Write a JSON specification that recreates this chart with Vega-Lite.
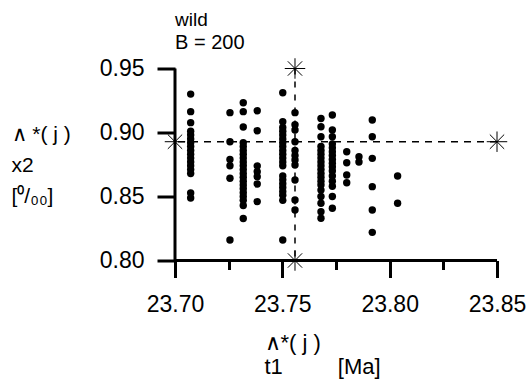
{
  "$schema": "https://vega.github.io/schema/vega-lite/v6.json",
  "width": 322,
  "height": 192,
  "autosize": "none",
  "padding": {"left": 175, "top": 68.5, "right": 30, "bottom": 126.5},
  "background": "white",
  "title": {
    "text": "wild",
    "subtitle": "B = 200",
    "anchor": "start",
    "frame": "group",
    "font": "Liberation Sans",
    "fontSize": 19,
    "fontWeight": "normal",
    "color": "black",
    "subtitleFont": "Liberation Sans",
    "subtitleFontSize": 20,
    "subtitleColor": "black",
    "subtitlePadding": 3,
    "offset": 3
  },
  "config": {
    "view": {"stroke": null},
    "axis": {
      "domain": false,
      "tickColor": "black",
      "tickWidth": 3,
      "grid": false,
      "labelFlush": false,
      "labelOverlap": false,
      "labelFont": "Liberation Sans",
      "labelFontSize": 23,
      "labelColor": "black",
      "titleFont": "Liberation Sans",
      "titleColor": "black",
      "titleFontWeight": "normal"
    }
  },
  "datasets": {
    "pts": [
      {"x":23.7073,"y":0.930},{"x":23.7073,"y":0.9163},{"x":23.7073,"y":0.9077},{"x":23.7073,"y":0.901},{"x":23.7073,"y":0.898},{"x":23.7073,"y":0.895},{"x":23.7073,"y":0.892},{"x":23.7073,"y":0.889},{"x":23.7073,"y":0.886},{"x":23.7073,"y":0.883},{"x":23.7073,"y":0.880},{"x":23.7073,"y":0.877},{"x":23.7073,"y":0.874},{"x":23.7073,"y":0.871},{"x":23.7073,"y":0.868},{"x":23.7073,"y":0.8527},{"x":23.7073,"y":0.8488},
      {"x":23.7256,"y":0.9155},{"x":23.7256,"y":0.8928},{"x":23.7256,"y":0.879},{"x":23.7256,"y":0.874},{"x":23.7256,"y":0.8642},{"x":23.7256,"y":0.816},
      {"x":23.7318,"y":0.9233},{"x":23.7318,"y":0.9163},{"x":23.7318,"y":0.9043},{"x":23.7318,"y":0.892},{"x":23.7318,"y":0.889},{"x":23.7318,"y":0.886},{"x":23.7318,"y":0.883},{"x":23.7318,"y":0.880},{"x":23.7318,"y":0.877},{"x":23.7318,"y":0.874},{"x":23.7318,"y":0.871},{"x":23.7318,"y":0.868},{"x":23.7318,"y":0.865},{"x":23.7318,"y":0.862},{"x":23.7318,"y":0.859},{"x":23.7318,"y":0.856},{"x":23.7318,"y":0.853},{"x":23.7318,"y":0.850},{"x":23.7318,"y":0.847},{"x":23.7318,"y":0.843},{"x":23.7318,"y":0.8328},
      {"x":23.7383,"y":0.917},{"x":23.7383,"y":0.9014},{"x":23.7383,"y":0.8738},{"x":23.7383,"y":0.8694},{"x":23.7383,"y":0.8655},{"x":23.7383,"y":0.8598},{"x":23.7383,"y":0.846},
      {"x":23.7502,"y":0.9311},{"x":23.7502,"y":0.9084},{"x":23.7502,"y":0.904},{"x":23.7502,"y":0.901},{"x":23.7502,"y":0.898},{"x":23.7502,"y":0.895},{"x":23.7502,"y":0.892},{"x":23.7502,"y":0.889},{"x":23.7502,"y":0.886},{"x":23.7502,"y":0.883},{"x":23.7502,"y":0.880},{"x":23.7502,"y":0.877},{"x":23.7502,"y":0.874},{"x":23.7502,"y":0.866},{"x":23.7502,"y":0.863},{"x":23.7502,"y":0.860},{"x":23.7502,"y":0.857},{"x":23.7502,"y":0.854},{"x":23.7502,"y":0.851},{"x":23.7502,"y":0.847},{"x":23.7502,"y":0.816},
      {"x":23.7559,"y":0.9155},{"x":23.7559,"y":0.906},{"x":23.7559,"y":0.902},{"x":23.7559,"y":0.8928},{"x":23.7559,"y":0.886},{"x":23.7559,"y":0.882},{"x":23.7559,"y":0.8785},{"x":23.7559,"y":0.8746},{"x":23.7559,"y":0.8629},{"x":23.7559,"y":0.8473},{"x":23.7559,"y":0.8395},
      {"x":23.768,"y":0.911},{"x":23.768,"y":0.9045},{"x":23.768,"y":0.8967},{"x":23.768,"y":0.889},{"x":23.768,"y":0.886},{"x":23.768,"y":0.883},{"x":23.768,"y":0.880},{"x":23.768,"y":0.877},{"x":23.768,"y":0.874},{"x":23.768,"y":0.871},{"x":23.768,"y":0.868},{"x":23.768,"y":0.865},{"x":23.768,"y":0.862},{"x":23.768,"y":0.859},{"x":23.768,"y":0.855},{"x":23.768,"y":0.850},{"x":23.768,"y":0.8447},{"x":23.768,"y":0.8381},{"x":23.768,"y":0.833},
      {"x":23.7733,"y":0.9137},{"x":23.7733,"y":0.902},{"x":23.7733,"y":0.8967},{"x":23.7733,"y":0.891},{"x":23.7733,"y":0.888},{"x":23.7733,"y":0.885},{"x":23.7733,"y":0.882},{"x":23.7733,"y":0.879},{"x":23.7733,"y":0.876},{"x":23.7733,"y":0.873},{"x":23.7733,"y":0.870},{"x":23.7733,"y":0.866},{"x":23.7733,"y":0.862},{"x":23.7733,"y":0.858},{"x":23.7733,"y":0.850},{"x":23.7733,"y":0.8408},
      {"x":23.780,"y":0.885},{"x":23.780,"y":0.8764},{"x":23.780,"y":0.8668},{"x":23.780,"y":0.8608},
      {"x":23.7857,"y":0.881},{"x":23.7857,"y":0.877},
      {"x":23.7919,"y":0.9098},{"x":23.7919,"y":0.8967},{"x":23.7919,"y":0.8798},{"x":23.7919,"y":0.8577},{"x":23.7919,"y":0.8395},{"x":23.7919,"y":0.822},
      {"x":23.8037,"y":0.866},{"x":23.8037,"y":0.8447}
    ],
    "mean": [{"x":23.7559,"y":0.8928}],
    "frame": [{"x":23.70,"y":0.80}],
    "stars": [
      {"x":23.70,"y":0.8928},{"x":23.85,"y":0.8928},{"x":23.7559,"y":0.95},{"x":23.7559,"y":0.80}
    ]
  },
  "layer": [
    {
      "data": {"name": "mean"},
      "mark": {"type": "rule", "color": "black", "strokeWidth": 1.5, "strokeDash": [7, 6]},
      "encoding": {
        "y": {"field": "y", "type": "quantitative", "scale": {"domain": [0.80, 0.95], "zero": false, "nice": false},
          "axis": {
            "values": [0.80, 0.825, 0.85, 0.875, 0.90, 0.925, 0.95],
            "labelExpr": "round(datum.value*1000) % 50 == 0 ? format(datum.value, '.2f') : ''",
            "tickSize": 18,
            "tickDash": {"condition": {"test": "round(datum.value*1000) % 50 != 0", "value": [9, 40]}, "value": [40, 0]},
            "labelPadding": 13,
            "title": ["∧ *( j )", "x2", "[⁰/₀₀]"],
            "titleFontSize": 21,
            "titleAngle": 0,
            "titleAlign": "left",
            "titleX": -164,
            "titleY": 55,
            "titleBaseline": "top",
            "titleLineHeight": 31
          }}
      }
    },
    {
      "data": {"name": "mean"},
      "mark": {"type": "rule", "color": "black", "strokeWidth": 1.5, "strokeDash": [6, 7]},
      "encoding": {
        "x": {"field": "x", "type": "quantitative", "scale": {"domain": [23.70, 23.85], "zero": false, "nice": false},
          "axis": {
            "values": [23.70, 23.725, 23.75, 23.775, 23.80, 23.825, 23.85],
            "labelExpr": "round(datum.value*1000) % 50 == 0 ? format(datum.value, '.2f') : ''",
            "tickSize": 17,
            "tickDash": {"condition": {"test": "round(datum.value*1000) % 50 != 0", "value": [9, 40]}, "value": [40, 0]},
            "labelPadding": 16,
            "title": ["\u00a0∧*( j )", "t1\u00a0\u00a0\u00a0\u00a0\u00a0\u00a0\u00a0\u00a0\u00a0[Ma]"],
            "titleFontSize": 22,
            "titleAlign": "left",
            "titleAnchor": "start",
            "titleX": 89,
            "titleY": 72,
            "titleBaseline": "top",
            "titleLineHeight": 24
          }}
      }
    },
    {
      "data": {"name": "frame"},
      "mark": {"type": "rule", "color": "black", "strokeWidth": 3},
      "encoding": {"y": {"field": "y", "type": "quantitative"}}
    },
    {
      "data": {"name": "frame"},
      "mark": {"type": "rule", "color": "black", "strokeWidth": 3},
      "encoding": {"x": {"field": "x", "type": "quantitative"}}
    },
    {
      "data": {"name": "pts"},
      "mark": {"type": "circle", "color": "black", "opacity": 1, "size": 55},
      "encoding": {
        "x": {"field": "x", "type": "quantitative"},
        "y": {"field": "y", "type": "quantitative"}
      }
    },
    {
      "data": {"name": "stars"},
      "mark": {
        "type": "point",
        "shape": "M-1,0L1,0M0,-1L0,1M-0.7,-0.7L0.7,0.7M-0.7,0.7L0.7,-0.7",
        "filled": false,
        "stroke": "black",
        "strokeWidth": 1,
        "opacity": 1,
        "size": 420
      },
      "encoding": {
        "x": {"field": "x", "type": "quantitative"},
        "y": {"field": "y", "type": "quantitative"}
      }
    }
  ]
}
